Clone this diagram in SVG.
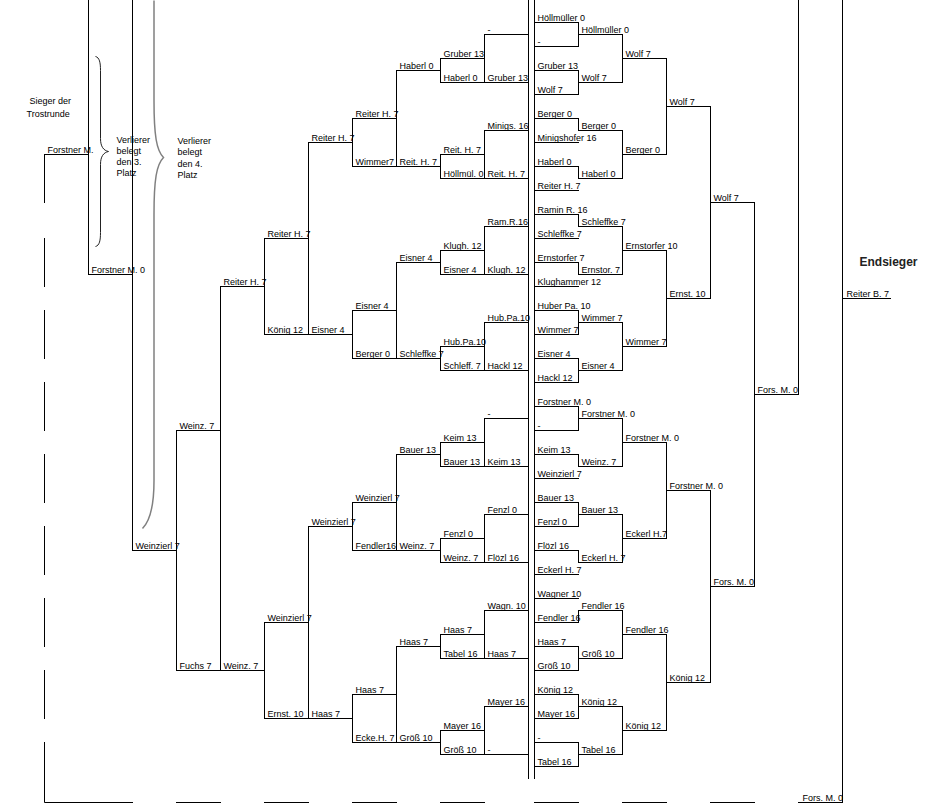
<svg xmlns="http://www.w3.org/2000/svg" width="948" height="812" viewBox="0 0 948 812">
<style>
.b path{stroke:#000;stroke-width:1;fill:none;stroke-linecap:square}
.b path.brace{stroke:#222;stroke-linecap:butt}
.b path.big{stroke:#808080;stroke-width:1.5;stroke-linecap:butt}
text{font-family:"Liberation Sans",Arial,Helvetica,sans-serif;font-size:9px;fill:#000}
text.title{font-size:12px;font-weight:bold;fill:#222}
</style>
<rect width="948" height="812" fill="#fff"/>
<g class="b" transform="translate(0.5,0.5)">
<g id="connectors">
<path d="M528,0V778M534,0V778"/>
<path d="M578,22V46M578,70V94M578,118V130M578,166V178M578,214V226M578,262V274M578,310V334M578,358V382M578,406V430M578,454V466M578,502V526M578,550V562M578,610V622M578,646V670M578,694V718M578,742V766"/>
<path d="M622,34V82M622,130V178M622,226V274M622,322V370M622,418V466M622,514V562M622,610V658M622,706V754"/>
<path d="M666,58V154M666,250V346M666,442V538M666,634V730"/>
<path d="M710,106V298M710,490V682M754,202V586M798,0V394M842,0V802"/>
<path d="M484,34V82M484,130V178M484,226V274M484,322V370M484,418V466M484,514V562M484,610V658M484,706V754"/>
<path d="M440,58V82M440,154V178M440,250V274M440,346V370M440,442V466M440,538V562M440,634V658M440,730V754"/>
<path d="M396,70V166M396,262V358M396,454V550M396,646V742"/>
<path d="M352,118V166M352,310V358M352,502V550M352,694V742"/>
<path d="M308,142V334M308,526V718M264,238V334M264,622V718M220,286V670M176,430V670M132,0V550M88,0V274"/>
<path d="M44,154V202M44,238V286M44,310V358M44,382V430M44,454V502M44,526V574M44,598V646M44,670V718M44,742V802H132M176,802H220M264,802H308M352,802H396M440,802H484M534,802H578M622,802H666M710,802H754"/>
<path class="brace" d="M95,56C99,57 100,62 100,70L100,138C100,146 103,150 108,151C103,152 100,156 100,164L100,232C100,240 99,245 95,246"/>
<path class="big" d="M153.5,0L153.5,100C153.5,135 156,150 163,157C156,164 153.5,179 153.5,214L153.5,480C153.5,505 150,520 142,528"/>
</g>
<g id="r1-00"><path d="M534,22H578"/><text x="537" y="20">Höllmüller 0</text></g>
<g id="r1-01"><path d="M534,46H578"/><text x="537" y="44">-</text></g>
<g id="r1-02"><path d="M534,70H578"/><text x="537" y="68">Gruber 13</text></g>
<g id="r1-03"><path d="M534,94H578"/><text x="537" y="92">Wolf 7</text></g>
<g id="r1-04"><path d="M534,118H578"/><text x="537" y="116">Berger 0</text></g>
<g id="r1-05"><path d="M534,142H578"/><text x="537" y="140">Minigshofer 16</text></g>
<g id="r1-06"><path d="M534,166H578"/><text x="537" y="164">Haberl 0</text></g>
<g id="r1-07"><path d="M534,190H578"/><text x="537" y="188">Reiter H. 7</text></g>
<g id="r1-08"><path d="M534,214H578"/><text x="537" y="212">Ramin R. 16</text></g>
<g id="r1-09"><path d="M534,238H578"/><text x="537" y="236">Schleffke 7</text></g>
<g id="r1-10"><path d="M534,262H578"/><text x="537" y="260">Ernstorfer 7</text></g>
<g id="r1-11"><path d="M534,286H578"/><text x="537" y="284">Klughammer 12</text></g>
<g id="r1-12"><path d="M534,310H578"/><text x="537" y="308">Huber Pa. 10</text></g>
<g id="r1-13"><path d="M534,334H578"/><text x="537" y="332">Wimmer 7</text></g>
<g id="r1-14"><path d="M534,358H578"/><text x="537" y="356">Eisner 4</text></g>
<g id="r1-15"><path d="M534,382H578"/><text x="537" y="380">Hackl 12</text></g>
<g id="r1-16"><path d="M534,406H578"/><text x="537" y="404">Forstner M. 0</text></g>
<g id="r1-17"><path d="M534,430H578"/><text x="537" y="428">-</text></g>
<g id="r1-18"><path d="M534,454H578"/><text x="537" y="452">Keim 13</text></g>
<g id="r1-19"><path d="M534,478H578"/><text x="537" y="476">Weinzierl 7</text></g>
<g id="r1-20"><path d="M534,502H578"/><text x="537" y="500">Bauer 13</text></g>
<g id="r1-21"><path d="M534,526H578"/><text x="537" y="524">Fenzl 0</text></g>
<g id="r1-22"><path d="M534,550H578"/><text x="537" y="548">Flözl 16</text></g>
<g id="r1-23"><path d="M534,574H578"/><text x="537" y="572">Eckerl H. 7</text></g>
<g id="r1-24"><path d="M534,598H578"/><text x="537" y="596">Wagner 10</text></g>
<g id="r1-25"><path d="M534,622H578"/><text x="537" y="620">Fendler 16</text></g>
<g id="r1-26"><path d="M534,646H578"/><text x="537" y="644">Haas 7</text></g>
<g id="r1-27"><path d="M534,670H578"/><text x="537" y="668">Größ 10</text></g>
<g id="r1-28"><path d="M534,694H578"/><text x="537" y="692">König 12</text></g>
<g id="r1-29"><path d="M534,718H578"/><text x="537" y="716">Mayer 16</text></g>
<g id="r1-30"><path d="M534,742H578"/><text x="537" y="740">-</text></g>
<g id="r1-31"><path d="M534,766H578"/><text x="537" y="764">Tabel 16</text></g>
<g id="r2-00"><path d="M578,34H622"/><text x="581" y="32">Höllmüller 0</text></g>
<g id="r2-01"><path d="M578,82H622"/><text x="581" y="80">Wolf 7</text></g>
<g id="r2-02"><path d="M578,130H622"/><text x="581" y="128">Berger 0</text></g>
<g id="r2-03"><path d="M578,178H622"/><text x="581" y="176">Haberl 0</text></g>
<g id="r2-04"><path d="M578,226H622"/><text x="581" y="224">Schleffke 7</text></g>
<g id="r2-05"><path d="M578,274H622"/><text x="581" y="272">Ernstor. 7</text></g>
<g id="r2-06"><path d="M578,322H622"/><text x="581" y="320">Wimmer 7</text></g>
<g id="r2-07"><path d="M578,370H622"/><text x="581" y="368">Eisner 4</text></g>
<g id="r2-08"><path d="M578,418H622"/><text x="581" y="416">Forstner M. 0</text></g>
<g id="r2-09"><path d="M578,466H622"/><text x="581" y="464">Weinz. 7</text></g>
<g id="r2-10"><path d="M578,514H622"/><text x="581" y="512">Bauer 13</text></g>
<g id="r2-11"><path d="M578,562H622"/><text x="581" y="560">Eckerl H. 7</text></g>
<g id="r2-12"><path d="M578,610H622"/><text x="581" y="608">Fendler 16</text></g>
<g id="r2-13"><path d="M578,658H622"/><text x="581" y="656">Größ 10</text></g>
<g id="r2-14"><path d="M578,706H622"/><text x="581" y="704">König 12</text></g>
<g id="r2-15"><path d="M578,754H622"/><text x="581" y="752">Tabel 16</text></g>
<g id="r3-0"><path d="M622,58H666"/><text x="625" y="56">Wolf 7</text></g>
<g id="r3-1"><path d="M622,154H666"/><text x="625" y="152">Berger 0</text></g>
<g id="r3-2"><path d="M622,250H666"/><text x="625" y="248">Ernstorfer 10</text></g>
<g id="r3-3"><path d="M622,346H666"/><text x="625" y="344">Wimmer 7</text></g>
<g id="r3-4"><path d="M622,442H666"/><text x="625" y="440">Forstner M. 0</text></g>
<g id="r3-5"><path d="M622,538H666"/><text x="625" y="536">Eckerl H.7</text></g>
<g id="r3-6"><path d="M622,634H666"/><text x="625" y="632">Fendler 16</text></g>
<g id="r3-7"><path d="M622,730H666"/><text x="625" y="728">König 12</text></g>
<g id="r4-0"><path d="M666,106H710"/><text x="669" y="104">Wolf 7</text></g>
<g id="r4-1"><path d="M666,298H710"/><text x="669" y="296">Ernst. 10</text></g>
<g id="r4-2"><path d="M666,490H710"/><text x="669" y="488">Forstner M. 0</text></g>
<g id="r4-3"><path d="M666,682H710"/><text x="669" y="680">König 12</text></g>
<g id="r5-0"><path d="M710,202H754"/><text x="713" y="200">Wolf 7</text></g>
<g id="r5-1"><path d="M710,586H754"/><text x="713" y="584">Fors. M. 0</text></g>
<g id="r6-0"><path d="M754,394H798"/><text x="757" y="392">Fors. M. 0</text></g>
<g id="final-bottom"><path d="M798,802H842"/><text x="802" y="800">Fors. M. 0</text></g>
<g id="final-winner"><path d="M842,298H890"/><text x="846" y="296">Reiter B. 7</text></g>
<g id="endsieger"><text class="title" x="859" y="265">Endsieger</text></g>
<g id="l1-00"><path d="M484,34H528"/><text x="487" y="32">-</text></g>
<g id="l1-01"><path d="M484,82H528"/><text x="487" y="80">Gruber 13</text></g>
<g id="l1-02"><path d="M484,130H528"/><text x="487" y="128">Minigs. 16</text></g>
<g id="l1-03"><path d="M484,178H528"/><text x="487" y="176">Reit. H. 7</text></g>
<g id="l1-04"><path d="M484,226H528"/><text x="487" y="224">Ram.R.16</text></g>
<g id="l1-05"><path d="M484,274H528"/><text x="487" y="272">Klugh. 12</text></g>
<g id="l1-06"><path d="M484,322H528"/><text x="487" y="320">Hub.Pa.10</text></g>
<g id="l1-07"><path d="M484,370H528"/><text x="487" y="368">Hackl 12</text></g>
<g id="l1-08"><path d="M484,418H528"/><text x="487" y="416">-</text></g>
<g id="l1-09"><path d="M484,466H528"/><text x="487" y="464">Keim 13</text></g>
<g id="l1-10"><path d="M484,514H528"/><text x="487" y="512">Fenzl 0</text></g>
<g id="l1-11"><path d="M484,562H528"/><text x="487" y="560">Flözl 16</text></g>
<g id="l1-12"><path d="M484,610H528"/><text x="487" y="608">Wagn. 10</text></g>
<g id="l1-13"><path d="M484,658H528"/><text x="487" y="656">Haas 7</text></g>
<g id="l1-14"><path d="M484,706H528"/><text x="487" y="704">Mayer 16</text></g>
<g id="l1-15"><path d="M484,754H528"/><text x="487" y="752">-</text></g>
<g id="l2-w0"><path d="M440,58H484"/><text x="443" y="56">Gruber 13</text></g>
<g id="l2-w1"><path d="M440,154H484"/><text x="443" y="152">Reit. H. 7</text></g>
<g id="l2-w2"><path d="M440,250H484"/><text x="443" y="248">Klugh. 12</text></g>
<g id="l2-w3"><path d="M440,346H484"/><text x="443" y="344">Hub.Pa.10</text></g>
<g id="l2-w4"><path d="M440,442H484"/><text x="443" y="440">Keim 13</text></g>
<g id="l2-w5"><path d="M440,538H484"/><text x="443" y="536">Fenzl 0</text></g>
<g id="l2-w6"><path d="M440,634H484"/><text x="443" y="632">Haas 7</text></g>
<g id="l2-w7"><path d="M440,730H484"/><text x="443" y="728">Mayer 16</text></g>
<g id="l2-e0"><path d="M440,82H484"/><text x="443" y="80">Haberl 0</text></g>
<g id="l2-e1"><path d="M440,178H484"/><text x="443" y="176">Höllmül. 0</text></g>
<g id="l2-e2"><path d="M440,274H484"/><text x="443" y="272">Eisner 4</text></g>
<g id="l2-e3"><path d="M440,370H484"/><text x="443" y="368">Schleff. 7</text></g>
<g id="l2-e4"><path d="M440,466H484"/><text x="443" y="464">Bauer 13</text></g>
<g id="l2-e5"><path d="M440,562H484"/><text x="443" y="560">Weinz. 7</text></g>
<g id="l2-e6"><path d="M440,658H484"/><text x="443" y="656">Tabel 16</text></g>
<g id="l2-e7"><path d="M440,754H484"/><text x="443" y="752">Größ 10</text></g>
<g id="l3-0"><path d="M396,70H440"/><text x="399" y="68">Haberl 0</text></g>
<g id="l3-1"><path d="M396,166H440"/><text x="399" y="164">Reit. H. 7</text></g>
<g id="l3-2"><path d="M396,262H440"/><text x="399" y="260">Eisner 4</text></g>
<g id="l3-3"><path d="M396,358H440"/><text x="399" y="356">Schleffke 7</text></g>
<g id="l3-4"><path d="M396,454H440"/><text x="399" y="452">Bauer 13</text></g>
<g id="l3-5"><path d="M396,550H440"/><text x="399" y="548">Weinz. 7</text></g>
<g id="l3-6"><path d="M396,646H440"/><text x="399" y="644">Haas 7</text></g>
<g id="l3-7"><path d="M396,742H440"/><text x="399" y="740">Größ 10</text></g>
<g id="l4-w0"><path d="M352,118H396"/><text x="355" y="116">Reiter H. 7</text></g>
<g id="l4-w1"><path d="M352,310H396"/><text x="355" y="308">Eisner 4</text></g>
<g id="l4-w2"><path d="M352,502H396"/><text x="355" y="500">Weinzierl 7</text></g>
<g id="l4-w3"><path d="M352,694H396"/><text x="355" y="692">Haas 7</text></g>
<g id="l4-e0"><path d="M352,166H396"/><text x="355" y="164">Wimmer7</text></g>
<g id="l4-e1"><path d="M352,358H396"/><text x="355" y="356">Berger 0</text></g>
<g id="l4-e2"><path d="M352,550H396"/><text x="355" y="548">Fendler16</text></g>
<g id="l4-e3"><path d="M352,742H396"/><text x="355" y="740">Ecke.H. 7</text></g>
<g id="l5-0"><path d="M308,142H352"/><text x="311" y="140">Reiter H. 7</text></g>
<g id="l5-1"><path d="M308,334H352"/><text x="311" y="332">Eisner 4</text></g>
<g id="l5-2"><path d="M308,526H352"/><text x="311" y="524">Weinzierl 7</text></g>
<g id="l5-3"><path d="M308,718H352"/><text x="311" y="716">Haas 7</text></g>
<g id="l6-w0"><path d="M264,238H308"/><text x="267" y="236">Reiter H. 7</text></g>
<g id="l6-e0"><path d="M264,334H308"/><text x="267" y="332">König 12</text></g>
<g id="l6-w1"><path d="M264,622H308"/><text x="267" y="620">Weinzierl 7</text></g>
<g id="l6-e1"><path d="M264,718H308"/><text x="267" y="716">Ernst. 10</text></g>
<g id="l7-0"><path d="M220,286H264"/><text x="223" y="284">Reiter H. 7</text></g>
<g id="l7-1"><path d="M220,670H264"/><text x="223" y="668">Weinz. 7</text></g>
<g id="l8-w"><path d="M176,430H220"/><text x="179" y="428">Weinz. 7</text></g>
<g id="l8-e"><path d="M176,670H220"/><text x="179" y="668">Fuchs 7</text></g>
<g id="l9"><path d="M132,550H176"/><text x="135" y="548">Weinzierl 7</text></g>
<g id="l10"><path d="M88,274H132"/><text x="91" y="272">Forstner M. 0</text></g>
<g id="l11"><path d="M44,154H88"/><text x="47" y="152">Forstner M.</text></g>
<g id="note-sieger"><text x="29" y="103">Sieger der</text><text x="26" y="116">Trostrunde</text></g>
<g id="note-3"><text x="116" y="142">Verlierer</text><text x="116" y="153">belegt</text><text x="116" y="164.5">den 3.</text><text x="116" y="175.5">Platz</text></g>
<g id="note-4"><text x="177" y="143">Verlierer</text><text x="177" y="154.5">belegt</text><text x="177" y="166">den 4.</text><text x="177" y="177">Platz</text></g>
</g>
</svg>
